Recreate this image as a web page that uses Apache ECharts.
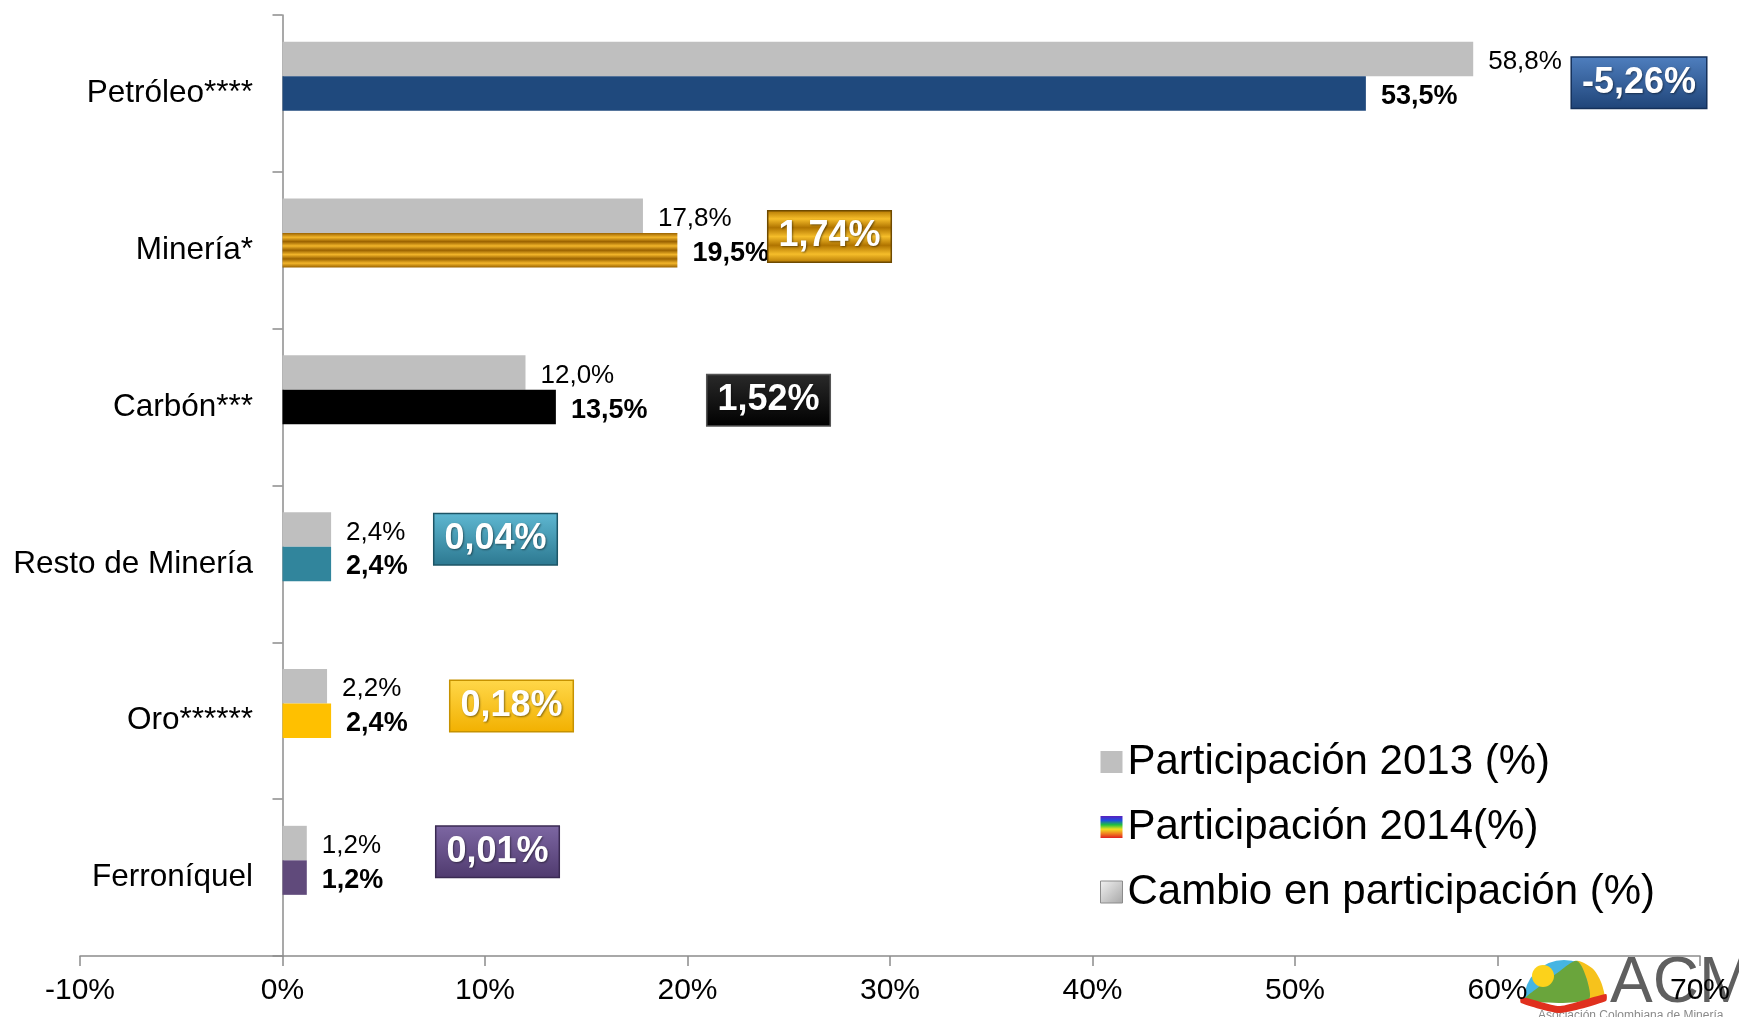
<!DOCTYPE html>
<html><head><meta charset="utf-8">
<script src="https://cdn.jsdelivr.net/npm/echarts@6/dist/echarts.min.js"></script>
<style>html,body{margin:0;padding:0;background:#fff}#c{width:1739px;height:1017px}</style>
</head><body><div id="c"></div>
<script>
// ---- data ----
const categories = ['Petróleo****', 'Minería*', 'Carbón***', 'Resto de Minería', 'Oro******', 'Ferroníquel'];
const part2013 = [58.8, 17.8, 12.0, 2.4, 2.2, 1.2];
const part2014 = [53.5, 19.5, 13.5, 2.4, 2.4, 1.2];
const cambio = [-5.26, 1.74, 1.52, 0.04, 0.18, 0.01];
const seriesNames = ['Participación 2013 (%)', 'Participación 2014(%)', 'Cambio en participación (%)'];
const xMin = -10, xMax = 70, xStep = 10;

// ---- styles ----
const FONT = '"Liberation Sans", Arial, sans-serif';
function lin(x2, y2, stops) { return {type: 'linear', x: 0, y: 0, x2: x2, y2: y2, colorStops: stops, global: false}; }
function stripes(c1, c2, n) {
  const s = [];
  for (let i = 0; i <= n; i++) s.push({offset: i / n, color: i % 2 ? c1 : c2});
  return lin(0, 1, s);
}
function vgrad(a, b) { return lin(0, 1, [{offset: 0, color: a}, {offset: 1, color: b}]); }
const gold = stripes('#f2b52a', '#9a6200', 8);
const color2014 = ['#1F497D', gold, '#000000', '#31859C', '#FFC000', '#604A7B'];
const rainbow = lin(0, 1, [
  {offset: 0, color: '#5a1fbf'}, {offset: 0.2, color: '#1f4fe0'}, {offset: 0.4, color: '#20c040'},
  {offset: 0.6, color: '#f0e020'}, {offset: 0.8, color: '#f08020'}, {offset: 1, color: '#e02020'}]);
const cambioBg = [
  vgrad('#4f7fbf', '#1f4478'),
  stripes('#f5bd2a', '#b07400', 6),
  vgrad('#2a2a2a', '#000000'),
  vgrad('#5fb8d2', '#2c7890'),
  vgrad('#ffd84a', '#f2b000'),
  vgrad('#7d67a3', '#4f3a6e')
];
const cambioBorder = ['#14305a', '#6e4a00', '#555555', '#1d5566', '#c69200', '#3a2a52'];
// label anchor offsets (px) relative to the transparent change bar
const cambioLabelPos = [[1463, -28], [547, -31], [486, -24], [213, -42], [229, -32], [215, -43]];

const fmt1 = v => v.toFixed(1).replace('.', ',') + '%';
const fmt2 = v => v.toFixed(2).replace('.', ',') + '%';

const chart = echarts.init(document.getElementById('c'));
chart.setOption({
  animation: false,
  backgroundColor: '#ffffff',
  grid: {left: 80, right: 39, top: 15, bottom: 61, containLabel: false, outerBoundsMode: 'none'},
  xAxis: {
    type: 'value', min: xMin, max: xMax, interval: xStep,
    splitLine: {show: false},
    axisLine: {show: true, lineStyle: {color: '#8c8c8c', width: 1.5}},
    axisTick: {show: true, length: 10, lineStyle: {color: '#8c8c8c', width: 1.5}},
    axisLabel: {formatter: '{value}%', fontSize: 30, color: '#000', fontFamily: FONT, margin: 20}
  },
  yAxis: {
    type: 'category', data: categories, inverse: true,
    axisLine: {show: true, onZero: true, lineStyle: {color: '#8c8c8c', width: 1.5}},
    axisTick: {show: true, length: 10, lineStyle: {color: '#8c8c8c', width: 1.5}},
    axisLabel: {fontSize: 31.5, color: '#000', fontFamily: FONT, margin: -173, padding: [6, 0, 0, 0]}
  },
  legend: {
    orient: 'vertical', left: 1095, top: 732, itemWidth: 22, itemHeight: 22, itemGap: 15,
    icon: 'rect', selectedMode: false,
    textStyle: {fontSize: 42, color: '#000', fontFamily: FONT, lineHeight: 50},
    data: [
      {name: seriesNames[0]},
      {name: seriesNames[1]},
      {name: seriesNames[2], itemStyle: {color: lin(1, 1, [{offset: 0, color: '#f2f2f2'}, {offset: 1, color: '#a6a6a6'}]), borderColor: '#8c8c8c', borderWidth: 1}}
    ]
  },
  series: [
    {
      name: seriesNames[0], type: 'bar', data: part2013, barGap: '0%', barCategoryGap: '34%',
      itemStyle: {color: '#BFBFBF'}, emphasis: {disabled: true},
      label: {show: true, position: 'right', distance: 15, offset: [0, 3], formatter: p => fmt1(p.value), fontSize: 26, color: '#000', fontFamily: FONT}
    },
    {
      name: seriesNames[1], type: 'bar', barGap: '0%', barCategoryGap: '34%',
      data: part2014.map((v, i) => ({value: v, itemStyle: {color: color2014[i]}})),
      itemStyle: {color: rainbow}, emphasis: {disabled: true},
      label: {show: true, position: 'right', distance: 15, offset: [0, 3], formatter: p => fmt1(p.value), fontSize: 27, fontWeight: 'bold', color: '#000', fontFamily: FONT}
    },
    {
      name: seriesNames[2], type: 'bar', barGap: '0%', barCategoryGap: '34%',
      data: cambio.map((v, i) => ({value: v, label: {position: cambioLabelPos[i], backgroundColor: cambioBg[i], borderColor: cambioBorder[i]}})),
      itemStyle: {color: 'rgba(0,0,0,0)'}, emphasis: {disabled: true}, z: 5,
      label: {show: true, formatter: p => fmt2(p.value), color: '#fff', fontWeight: 'bold', fontSize: 36, fontFamily: FONT,
        align: 'center', verticalAlign: 'middle', padding: [4, 10, 2, 10], lineHeight: 44, borderWidth: 1.5,
        textShadowColor: 'rgba(0,0,0,0.45)', textShadowBlur: 2, textShadowOffsetX: 1, textShadowOffsetY: 1}
    }
  ],
  graphic: [
    {type: 'sector', z: -10, shape: {cx: 1564, cy: 1000, r: 40, r0: 0, startAngle: Math.PI, endAngle: 2 * Math.PI, clockwise: true}, style: {fill: '#45b5e3'}},
    {type: 'polygon', z: -9, shape: {points: [[1577, 961], [1592, 968], [1601, 982], [1604, 1000], [1588, 1000], [1587, 980]], smooth: 0.3}, style: {fill: '#f6c21c'}},
    {type: 'polygon', z: -9, shape: {points: [[1525, 1000], [1540, 986], [1560, 971], [1577, 961], [1587, 980], [1588, 1000]], smooth: 0.3}, style: {fill: '#6aa53c'}},
    {type: 'circle', z: -8, shape: {cx: 1543, cy: 976, r: 11}, style: {fill: '#fcd21b'}},
    {type: 'polygon', z: -7, shape: {points: [[1521, 997], [1560, 1006], [1606, 994], [1606, 1001], [1560, 1013], [1521, 1003]], smooth: 0.2}, style: {fill: '#e0301e'}},
    {type: 'text', z: -10, left: 1610, top: 952, style: {text: 'ACM', fontSize: 64, fill: '#5f5f5f', fontFamily: FONT}},
    {type: 'text', z: -10, left: 1538, top: 1010, style: {text: 'Asociación Colombiana de Minería', fontSize: 12, fill: '#8a8a8a', fontFamily: FONT}}
  ]
});
</script>
</body></html>
